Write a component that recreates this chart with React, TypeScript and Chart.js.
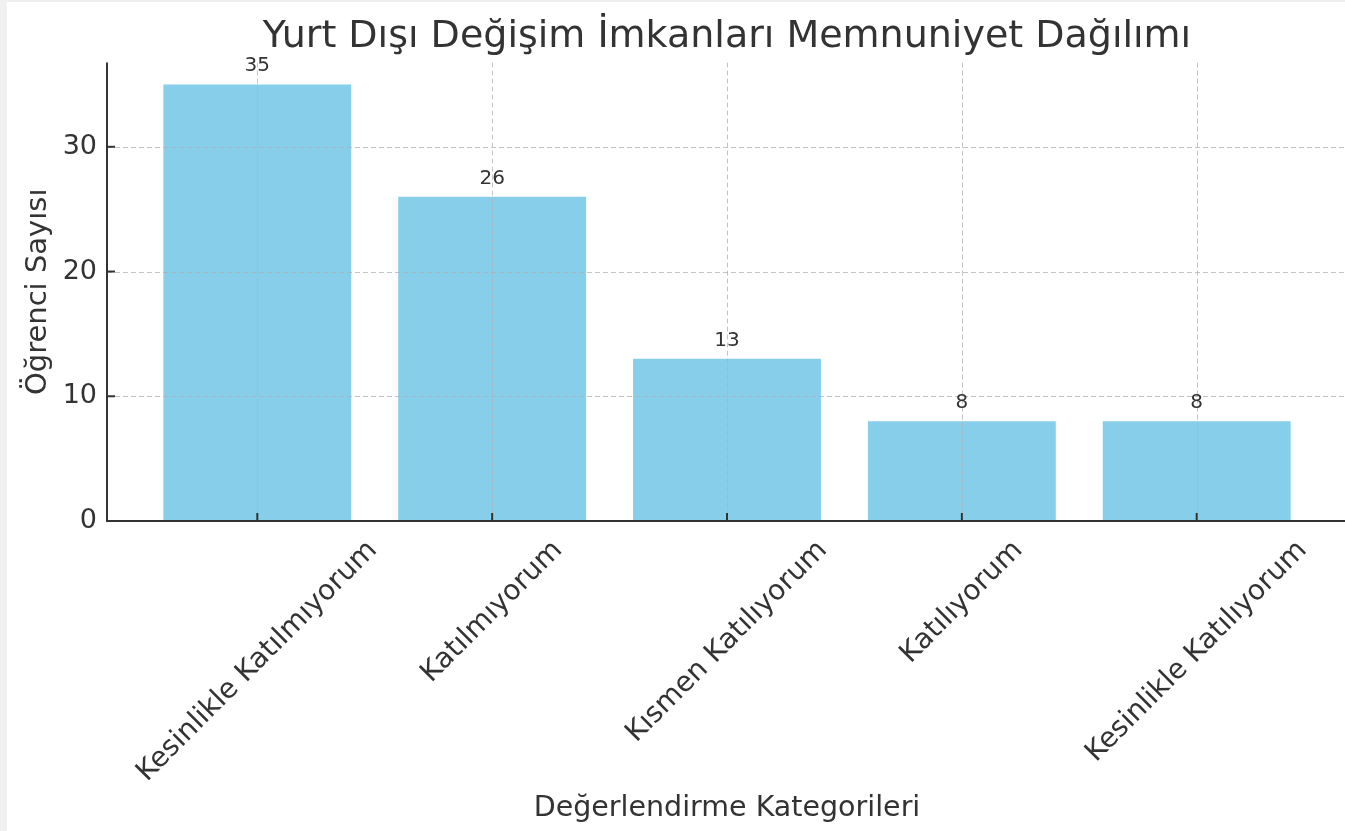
import React, { useEffect, useRef } from 'react';
import { Chart, registerables } from 'chart.js';

Chart.register(...registerables);

const categories = [
  'Kesinlikle Katılmıyorum',
  'Katılmıyorum',
  'Kısmen Katılıyorum',
  'Katılıyorum',
  'Kesinlikle Katılıyorum',
];
const counts = [35, 26, 13, 8, 8];
const yTicks = [0, 10, 20, 30];
const chartTitle = 'Yurt Dışı Değişim İmkanları Memnuniyet Dağılımı';
const xTitle = 'Değerlendirme Kategorileri';
const yTitle = 'Öğrenci Sayısı';

const FONT = "'DejaVu Sans', sans-serif";
const TEXT = '#333333';
const BAR = '#87CEEB';
const LABEL_SIZE = 29;
const CAT_SIZE = 28;

const overlay = {
  id: 'overlay',
  afterDatasetsDraw(chart: any) {
    const { ctx, chartArea: a, scales } = chart;
    const x = scales.x;
    const y = scales.y;
    ctx.save();
    // dashed grid over bars
    ctx.strokeStyle = 'rgba(176,176,176,0.75)';
    ctx.lineWidth = 1;
    ctx.setLineDash([5, 3]);
    yTicks.forEach((t) => {
      const py = Math.round(y.getPixelForValue(t)) + 0.5;
      ctx.beginPath();
      ctx.moveTo(a.left, py);
      ctx.lineTo(a.right, py);
      ctx.stroke();
    });
    categories.forEach((_, i) => {
      const px = Math.round(x.getPixelForValue(i)) + 0.5;
      ctx.beginPath();
      ctx.moveTo(px, a.top);
      ctx.lineTo(px, a.bottom);
      ctx.stroke();
    });
    ctx.setLineDash([]);
    // spines
    ctx.strokeStyle = '#333333';
    ctx.lineWidth = 2;
    ctx.beginPath();
    ctx.moveTo(a.left, a.top);
    ctx.lineTo(a.left, a.bottom);
    ctx.lineTo(a.right, a.bottom);
    ctx.stroke();
    // inward ticks
    yTicks.forEach((t) => {
      const py = y.getPixelForValue(t);
      ctx.beginPath();
      ctx.moveTo(a.left, py);
      ctx.lineTo(a.left + 8, py);
      ctx.stroke();
    });
    categories.forEach((_, i) => {
      const px = x.getPixelForValue(i);
      ctx.beginPath();
      ctx.moveTo(px, a.bottom);
      ctx.lineTo(px, a.bottom - 8);
      ctx.stroke();
    });
    // value labels
    ctx.fillStyle = TEXT;
    ctx.font = `20px ${FONT}`;
    ctx.textAlign = 'center';
    ctx.textBaseline = 'alphabetic';
    counts.forEach((v, i) => {
      ctx.fillText(String(v), x.getPixelForValue(i), y.getPixelForValue(v) - 13);
    });
    // rotated category labels (centered on tick)
    ctx.font = `${CAT_SIZE}px ${FONT}`;
    ctx.textBaseline = 'middle';
    const h = CAT_SIZE * 1.1;
    categories.forEach((label, i) => {
      const w = ctx.measureText(label).width;
      const bboxH = (w + h) / Math.SQRT2;
      const cx = x.getPixelForValue(i);
      const cy = a.bottom + 14 + bboxH / 2;
      ctx.save();
      ctx.translate(cx, cy);
      ctx.rotate(-Math.PI / 4);
      ctx.fillText(label, 0, 0);
      ctx.restore();
    });
    ctx.restore();
  },
};

export default function App() {
  const ref = useRef<HTMLCanvasElement | null>(null);
  useEffect(() => {
    if (!ref.current) return;
    const chart = new Chart(ref.current, {
      type: 'bar',
      data: {
        datasets: [
          {
            data: counts.map((v, i) => ({ x: i, y: v })),
            backgroundColor: BAR,
            borderWidth: 0,
            barPercentage: 0.8,
            categoryPercentage: 1,
          },
        ],
      },
      options: {
        animation: false,
        responsive: false,
        layout: { padding: { left: 0, right: 5, top: 0, bottom: 0 } },
        plugins: {
          legend: { display: false },
          tooltip: { enabled: false },
          title: {
            display: true,
            text: chartTitle,
            fullSize: false,
            color: TEXT,
            font: { family: FONT, size: 38, weight: 'normal' },
            padding: { top: 12, bottom: 3 },
          },
        },
        scales: {
          x: {
            type: 'linear',
            min: -0.64,
            max: 4.64,
            offset: false,
            grid: { display: false, drawTicks: false },
            border: { display: false },
            afterBuildTicks: (s: any) => {
              s.ticks = categories.map((_, i) => ({ value: i }));
            },
            ticks: { display: false },
            title: {
              display: true,
              text: xTitle,
              color: TEXT,
              font: { family: FONT, size: 28.5 },
              padding: { top: 0, bottom: 5 },
            },
            afterFit: (s: any) => {
              s.height = 310;
            },
          },
          y: {
            type: 'linear',
            min: 0,
            max: 36.75,
            grid: { display: false, drawTicks: false },
            border: { display: false },
            afterBuildTicks: (s: any) => {
              s.ticks = yTicks.map((v) => ({ value: v }));
            },
            ticks: {
              color: TEXT,
              font: { family: FONT, size: 27 },
              padding: 10,
            },
            title: {
              display: true,
              text: yTitle,
              color: TEXT,
              font: { family: FONT, size: LABEL_SIZE },
              padding: { top: 14, bottom: 0 },
            },
            afterFit: (s: any) => {
              s.width = 100;
            },
          },
        },
      },
      plugins: [overlay],
    } as any);
    return () => chart.destroy();
  }, []);

  return (
    <div
      style={{
        position: 'fixed',
        left: 0,
        top: 0,
        width: 1345,
        height: 831,
        background: '#f0f0f0',
        overflow: 'hidden',
      }}
    >
      <div
        style={{
          position: 'absolute',
          left: 7,
          top: 2,
          width: 1345,
          height: 829,
          background: '#ffffff',
        }}
      >
        <canvas ref={ref} width={1345} height={829} style={{ width: 1345, height: 829, display: 'block' }} />
      </div>
    </div>
  );
}
